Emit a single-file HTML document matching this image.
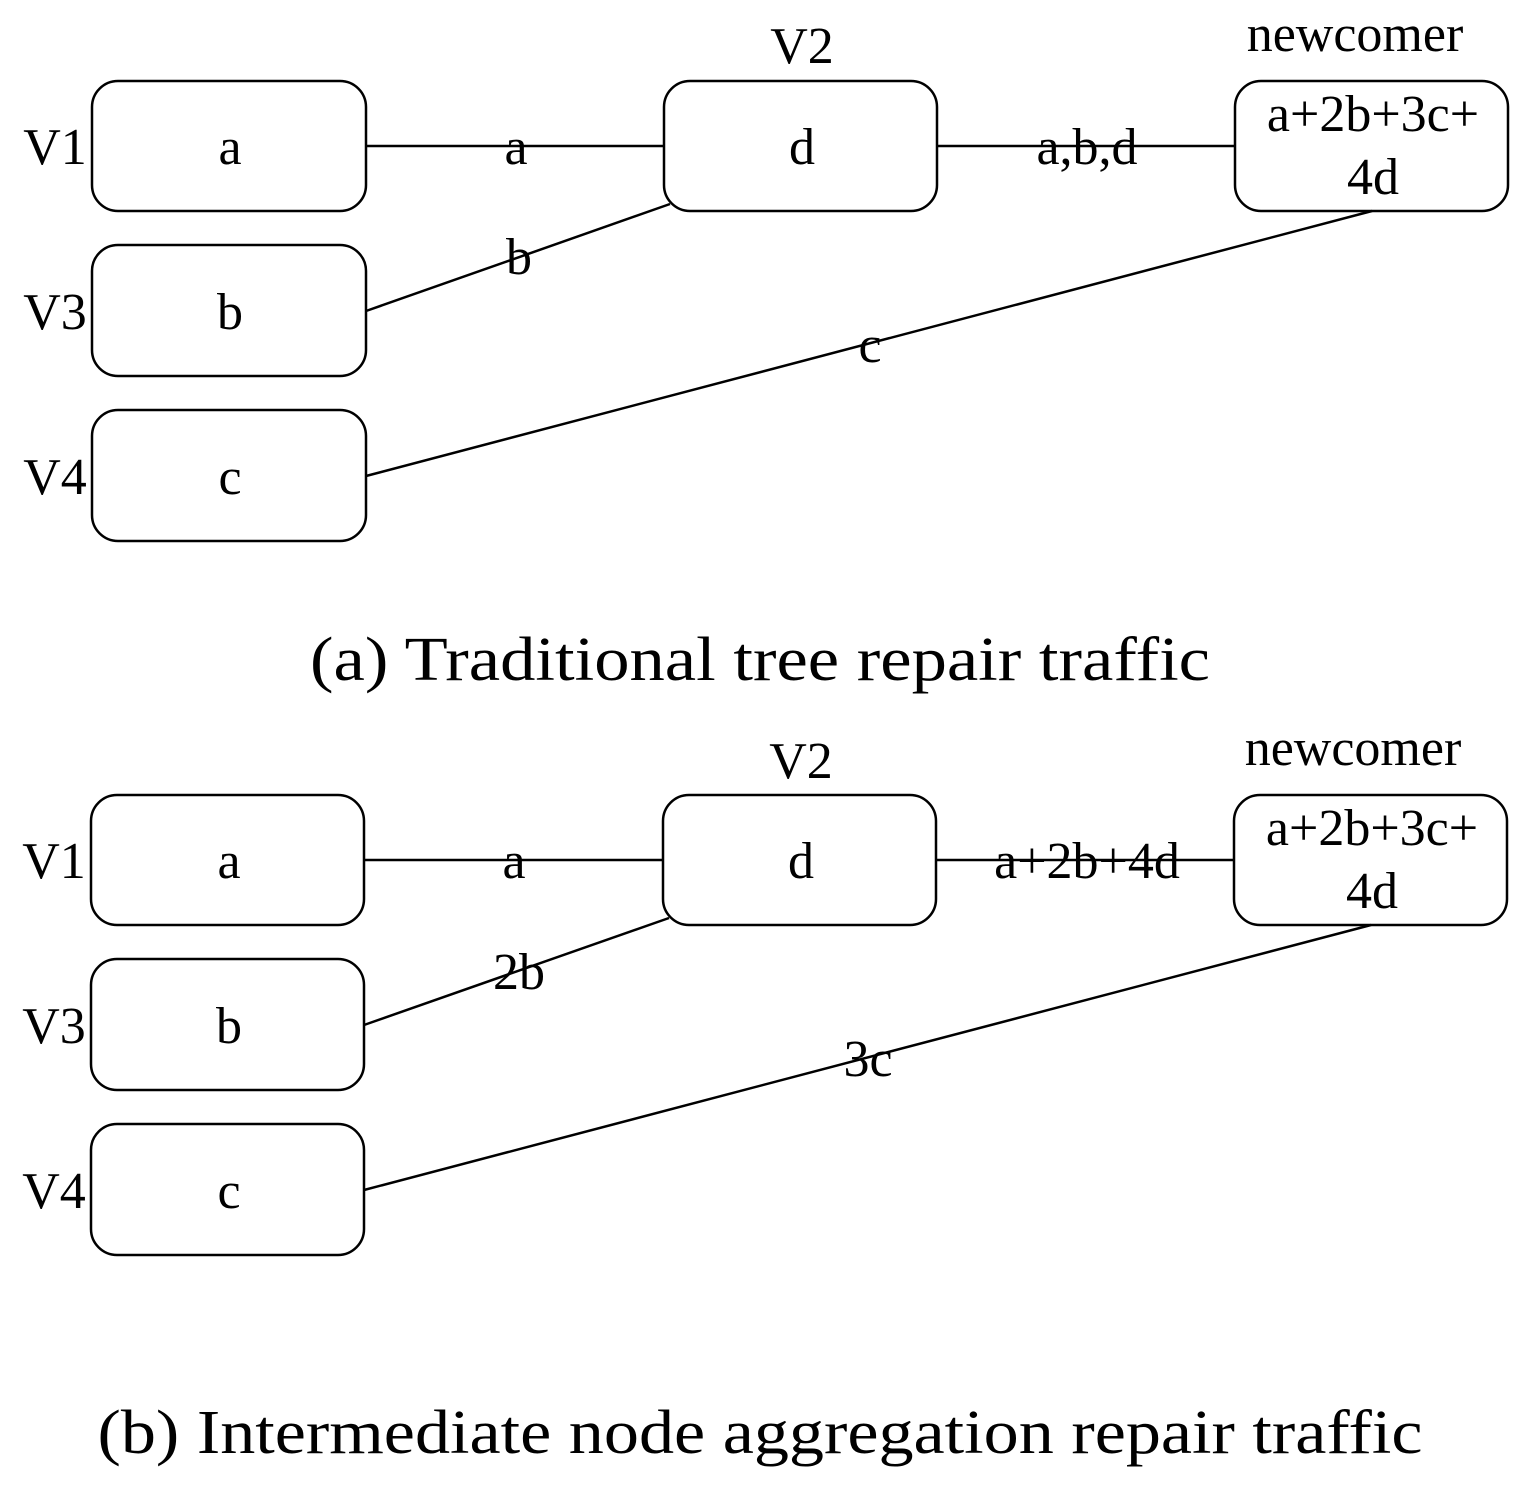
<!DOCTYPE html>
<html><head><meta charset="utf-8"><style>html,body{margin:0;padding:0;background:#fff}svg{display:block}</style></head>
<body>
<svg width="1535" height="1505" viewBox="0 0 1535 1505" xmlns="http://www.w3.org/2000/svg" font-family="Liberation Serif, serif" fill="#000">
<g fill="none" stroke="#000" stroke-width="2.5">
<rect x="92" y="81" width="274" height="130" rx="26"/>
<rect x="92" y="245" width="274" height="131" rx="26"/>
<rect x="92" y="410" width="274" height="131" rx="26"/>
<rect x="664" y="81" width="273" height="130" rx="26"/>
<rect x="1235" y="81" width="273" height="130" rx="26"/>
<line x1="366" y1="146" x2="664" y2="146"/>
<line x1="366" y1="311" x2="670" y2="204"/>
<line x1="366" y1="476" x2="1372" y2="211"/>
<line x1="937" y1="146" x2="1235" y2="146"/>
<rect x="91" y="795" width="273" height="130" rx="26"/>
<rect x="91" y="959" width="273" height="131" rx="26"/>
<rect x="91" y="1124" width="273" height="131" rx="26"/>
<rect x="663" y="795" width="273" height="130" rx="26"/>
<rect x="1234" y="795" width="273" height="130" rx="26"/>
<line x1="364" y1="860" x2="663" y2="860"/>
<line x1="364" y1="1025" x2="669" y2="918"/>
<line x1="364" y1="1190" x2="1371" y2="925"/>
<line x1="936" y1="860" x2="1234" y2="860"/>
</g>
<g font-size="52" text-anchor="middle">
<text x="55" y="164">V1</text><text x="55" y="329">V3</text><text x="55" y="494">V4</text>
<text x="230" y="164">a</text><text x="230" y="329">b</text><text x="230" y="494">c</text>
<text x="802" y="164">d</text><text x="802" y="63">V2</text>
<text x="1355" y="51">newcomer</text>
<text x="1373" y="131">a+2b+3c+</text><text x="1373" y="194">4d</text>
<text x="516" y="164">a</text><text x="519" y="274">b</text><text x="870" y="362">c</text><text x="1087" y="164">a,b,d</text>

<text x="54" y="878">V1</text><text x="54" y="1043">V3</text><text x="54" y="1208">V4</text>
<text x="229" y="878">a</text><text x="229" y="1043">b</text><text x="229" y="1208">c</text>
<text x="801" y="878">d</text><text x="801" y="778">V2</text>
<text x="1353" y="765">newcomer</text>
<text x="1372" y="845">a+2b+3c+</text><text x="1372" y="908">4d</text>
<text x="514" y="878">a</text><text x="519" y="989">2b</text><text x="868" y="1076">3c</text><text x="1087" y="878">a+2b+4d</text>
</g>
<g font-size="62" text-anchor="middle">
<text x="760" y="680" textLength="900" lengthAdjust="spacingAndGlyphs">(a) Traditional tree repair traffic</text>
<text x="760" y="1453" textLength="1325" lengthAdjust="spacingAndGlyphs">(b) Intermediate node aggregation repair traffic</text>
</g>
</svg>
</body></html>
